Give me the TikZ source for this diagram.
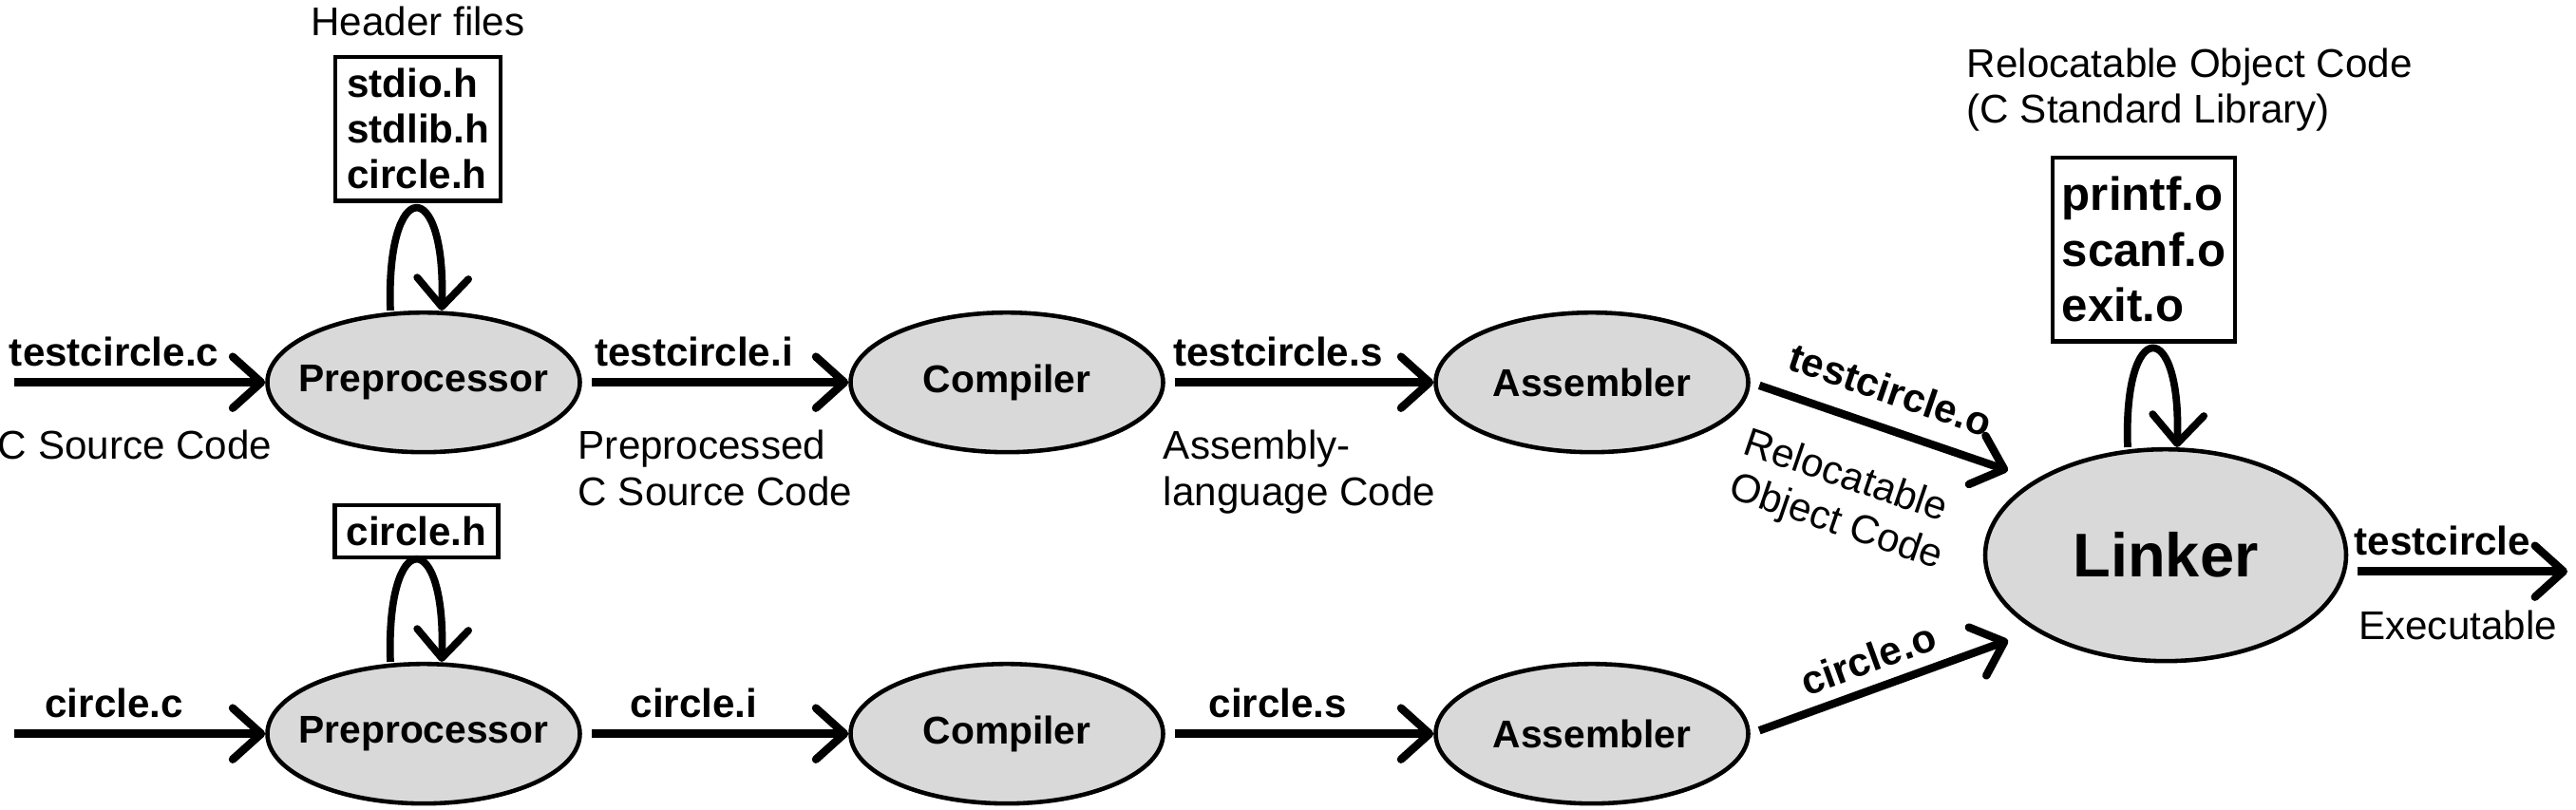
\documentclass[tikz,border=0pt]{standalone}
\usepackage{fontspec}
\setmainfont{Liberation Sans}
\usetikzlibrary{arrows.meta,shapes.geometric,positioning}
\definecolor{stagegray}{HTML}{D9D9D9}

\begin{document}
\begin{tikzpicture}[
  stage/.style={
    ellipse, draw, line width=1.3pt, fill=stagegray,
    minimum width=3.29cm, minimum height=1.47cm,
    inner xsep=-2mm, inner ysep=0pt,
    font=\bfseries\fontsize{11.6}{14}\selectfont,
  },
  big stage/.style={stage, minimum width=3.8cm, minimum height=2.23cm,
    font=\bfseries\fontsize{18.5}{22}\selectfont},
  file box/.style={draw, line width=1.3pt, align=left, inner xsep=1.2mm, inner ysep=1.2mm,
    font=\bfseries\fontsize{12}{13.7}\selectfont},
  flow/.style={-{Straight Barb[round,length=3mm,width=5.4mm]}, line width=2.4pt, shorten <=1mm},
  loop arrow/.style={-{Straight Barb[round,length=3mm,width=5.4mm]}, line width=2.2pt},
  tag/.style={font=\bfseries\fontsize{12}{14}\selectfont, inner sep=2pt, pos=0.42, above=1.5pt},
  note/.style={font=\fontsize{12}{13.9}\selectfont, inner sep=2pt, align=left},
  ]
  \useasboundingbox (0,0) rectangle (27.12,8.527);
  \coordinate (in1) at (0.05,4.5);
  \coordinate (in2) at (0.05,0.8);
  \coordinate (out) at (27.03,2.51);

  \node[stage] (pre1) at (4.46,4.5) {Preprocessor};
  \node[stage] (comp1) at (10.6,4.5) {Compiler};
  \node[stage] (asm1) at (16.76,4.5) {Assembler};
  \node[stage] (pre2) at (4.46,0.8) {Preprocessor};
  \node[stage] (comp2) at (10.6,0.8) {Compiler};
  \node[stage] (asm2) at (16.76,0.8) {Assembler};
  \node[big stage] (link) at (22.8,2.68) {Linker};

  \node[file box] (hdr) at (4.4,7.17) {stdio.h\\stdlib.h\\circle.h};
  \node[note, above=1.2mm of hdr] (hdrlbl) {Header files};
  \node[file box] (ch) at (4.385,2.93) {circle.h};
  \node[file box, font=\bfseries\fontsize{14}{16.7}\selectfont, inner xsep=1mm, inner ysep=2mm] (lib) at (22.57,5.9) {printf.o\\scanf.o\\exit.o};
  \node[note, anchor=west, font=\fontsize{12}{13.5}\selectfont] (liblbl) at (20.63,7.58) {Relocatable Object Code\\(C Standard Library)};

  \draw[loop arrow] ([xshift=-3.5mm]pre1.north) .. controls +(-0.05,1.43) and +(0.05,1.43) .. ([xshift=1.9mm]pre1.north);
  \draw[loop arrow] ([xshift=-3.5mm]pre2.north) .. controls +(-0.05,1.43) and +(0.05,1.43) .. ([xshift=1.9mm]pre2.north);
  \draw[loop arrow] ([xshift=-4mm]link.north) .. controls +(-0.05,1.38) and +(0.05,1.38) .. ([xshift=1.2mm]link.north);

  \draw[flow] (in1) -- node[tag] {testcircle.c} node[note, below=11pt] {C Source Code} (pre1);
  \draw[flow] (pre1) -- node[tag] {testcircle.i} node[note, below=11pt] {Preprocessed\\C Source Code} (comp1);
  \draw[flow] (comp1) -- node[tag] {testcircle.s} node[note, below=11pt] {Assembly-\\language Code} (asm1);
  \draw[flow, shorten >=3mm] (asm1.east) -- node[tag, sloped, pos=0.45, above=4pt] {testcircle.o} node[note, sloped, pos=0.42, below=9pt] {Relocatable\\Object Code} (link.150);

  \draw[flow] (in2) -- node[tag] {circle.c} (pre2);
  \draw[flow] (pre2) -- node[tag] {circle.i} (comp2);
  \draw[flow] (comp2) -- node[tag] {circle.s} (asm2);
  \draw[flow, shorten >=3mm] (asm2.east) -- node[tag, sloped, pos=0.45] {circle.o} (link.210);

  \draw[flow] (link.east |- out) -- node[tag, pos=0.43] {testcircle} node[note, below=8.5pt] {Executable} (out);
\end{tikzpicture}
\end{document}
